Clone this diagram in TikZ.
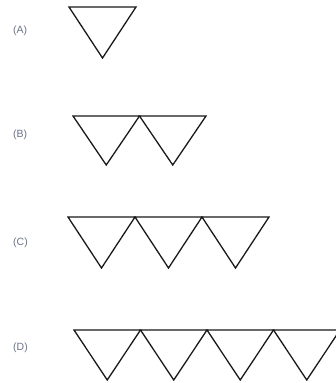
\documentclass[tikz,border=0pt]{standalone}
\usepackage{fontspec}
\setmainfont{Liberation Sans}
\definecolor{lbl}{RGB}{105,115,135}
\begin{document}
\begin{tikzpicture}[x=1pt,y=-1pt,
  tri/.style={draw=black!90,line width=1.3pt,line join=miter},
  lbl/.style={text=lbl,font=\fontsize{10.5}{12}\selectfont,anchor=west,inner sep=0pt}]
\useasboundingbox (0,0) rectangle (336,383);
% labels
\node[lbl] (la) at (13,31) {(A)};
\node[lbl] (lb) at (13,135) {(B)};
\node[lbl] (lc) at (13,243) {(C)};
\node[lbl] (ld) at (13,348) {(D)};
% row A
\foreach \i in {0} {\draw[tri] (69+67*\i,7) -- (136+67*\i,7) -- (102.5+67*\i,58) -- cycle;}
% row B
\foreach \i in {0,1} {\draw[tri] (73+66.5*\i,116) -- (139.5+66.5*\i,116) -- (106.25+66.5*\i,165) -- cycle;}
% row C
\foreach \i in {0,1,2} {\draw[tri] (68+67*\i,217) -- (135+67*\i,217) -- (101.5+67*\i,268) -- cycle;}
% row D
\foreach \i in {0,1,2,3} {\draw[tri] (74+66.5*\i,330) -- (140.5+66.5*\i,330) -- (107.25+66.5*\i,380) -- cycle;}
\end{tikzpicture}
\end{document}
